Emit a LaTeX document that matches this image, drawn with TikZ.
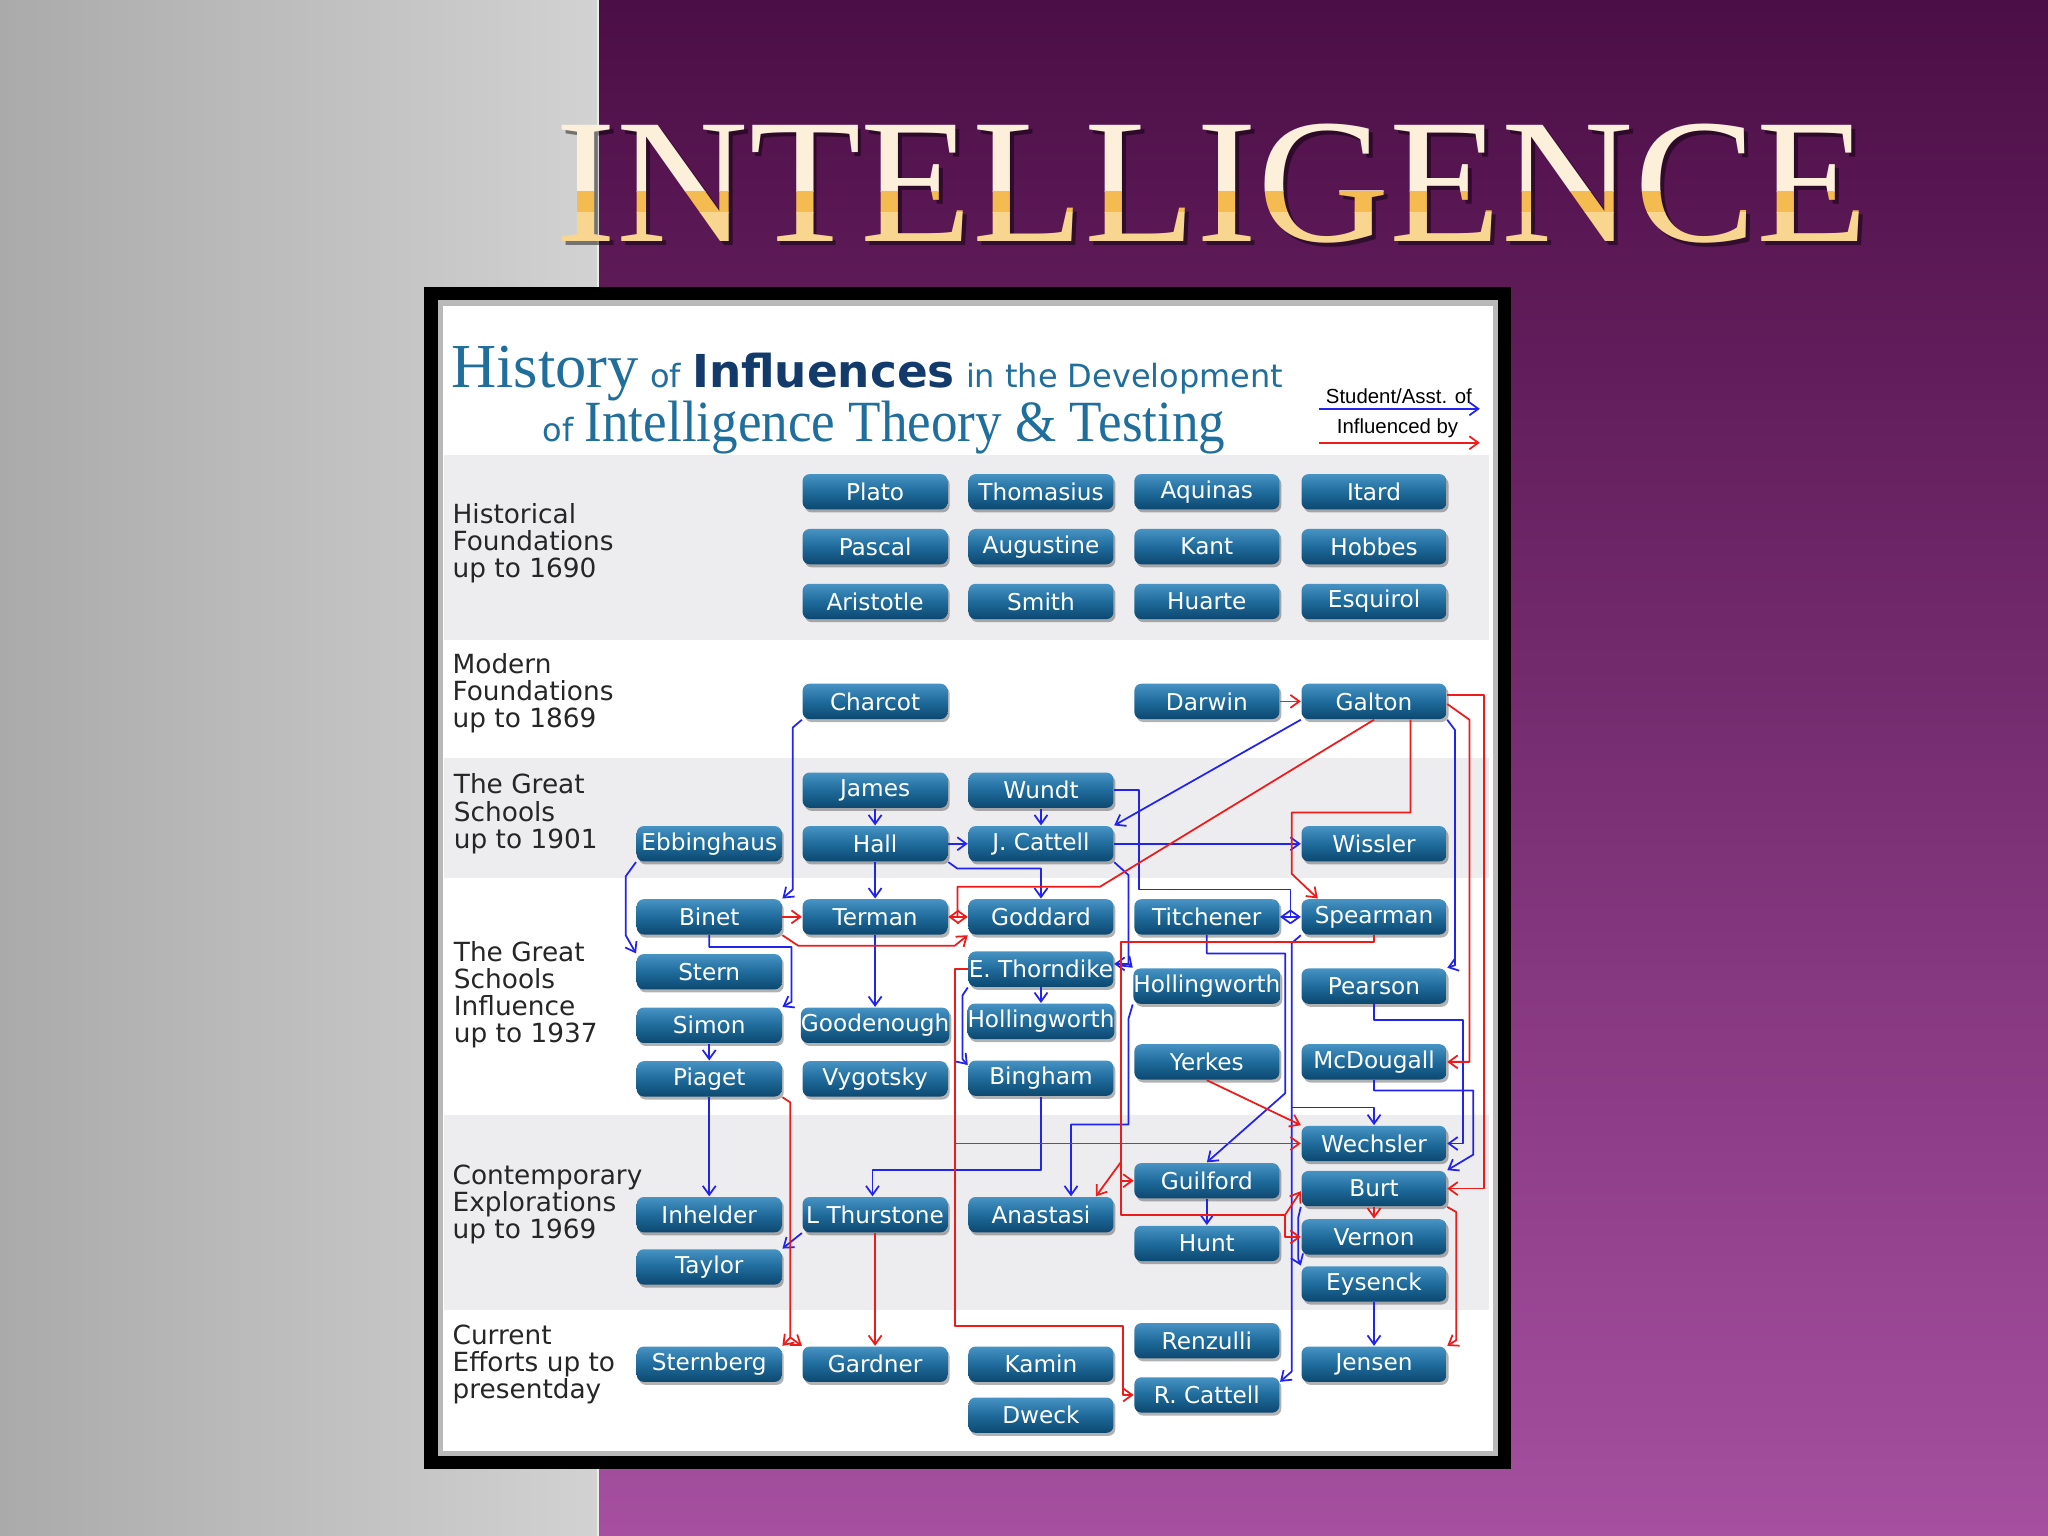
\documentclass[tikz,border=0pt]{standalone}
\usepackage{fontspec}
\usepackage{graphicx}
\setmainfont{DejaVu Sans}
\newfontfamily\serifT{Liberation Serif}
\newfontfamily\legf{Liberation Sans}
\usetikzlibrary{arrows.meta,calc,shadows}
\definecolor{boxtop}{HTML}{4693C4}
\definecolor{boxmid}{HTML}{1F6B9B}
\definecolor{boxbot}{HTML}{0C4870}
\definecolor{lineblue}{HTML}{2323EE}
\definecolor{linered}{HTML}{EE1B1B}
\definecolor{bandgray}{HTML}{EDEDF0}
\definecolor{titleteal}{HTML}{1F6E9C}
\definecolor{titlenavy}{HTML}{123A6B}
\definecolor{purptop}{HTML}{4C0E46}
\definecolor{purpbot}{HTML}{A64FA0}
\definecolor{greyL}{HTML}{AAAAAA}
\definecolor{greyR}{HTML}{D2D2D2}
\definecolor{goldA}{HTML}{FDF0DA}
\definecolor{goldB}{HTML}{F3BB50}
\definecolor{goldC}{HTML}{F9D690}
\begin{document}
\begin{tikzpicture}[x=0.013061cm, y=-0.013061cm,
  pbox/.style={rounded corners=0.07cm, minimum width=1.45cm, minimum height=0.353cm,
    inner sep=0pt, top color=boxtop, bottom color=boxbot, middle color=boxmid,
    text=white, font=\fontsize{6.6}{7}\selectfont,
    drop shadow={shadow xshift=0.02cm, shadow yshift=-0.03cm, opacity=0.3, fill=black}},
  bl/.style={draw=lineblue, line width=0.5pt, line join=round, -{Straight Barb[length=0.9mm,width=1.3mm]}},
  bln/.style={draw=lineblue, line width=0.5pt, line join=round},
  rd/.style={draw=linered, line width=0.5pt, line join=round, -{Straight Barb[length=0.9mm,width=1.3mm]}},
  rdn/.style={draw=linered, line width=0.5pt, line join=round},
  rowlab/.style={anchor=north west, align=left, inner sep=0pt, font=\fontsize{7.5}{7.7}\selectfont, text=black!85},
  bigtitle/.style={anchor=base west, inner sep=0pt, font=\serifT\fontsize{50.5}{52}\selectfont}]

\useasboundingbox (0,0) rectangle (1568,1176);

% backgrounds
\shade[left color=greyL, right color=greyR] (0,0) rectangle (458,1176);
\shade[top color=purptop, bottom color=purpbot] (458,0) rectangle (1568,1176);
\draw[white!85!gray, line width=0.6pt] (458,0) -- (458,1176);

% title INTELLIGENCE
\node[bigtitle, text=black, opacity=0.45] (tshadow) at (428,188) {\scalebox{1.032}[1]{INTELLIGENCE}};
\begin{scope}
  \clip (300,40) rectangle (1500,147);
  \node[bigtitle, text=goldA] (title1) at (425,185) {\scalebox{1.032}[1]{INTELLIGENCE}};
\end{scope}
\begin{scope}
  \clip (300,147) rectangle (1500,163);
  \node[bigtitle, text=goldB] (title2) at (425,185) {\scalebox{1.032}[1]{INTELLIGENCE}};
\end{scope}
\begin{scope}
  \clip (300,163) rectangle (1500,220);
  \node[bigtitle, text=goldC] (title3) at (425,185) {\scalebox{1.032}[1]{INTELLIGENCE}};
\end{scope}

% frame
\fill[black] (325,220) rectangle (1157,1125);
\fill[gray!55] (335,230) rectangle (1147,1115);
\fill[white] (339,234) rectangle (1143,1111);

% bands
\fill[bandgray] (340,348) rectangle (1140,490);
\fill[bandgray] (340,580) rectangle (1140,672);
\fill[bandgray] (340,854) rectangle (1140,1003);

% header
\node[anchor=base west, inner sep=0pt, text=titleteal] (hdr1) at (345,297)
  {{\serifT\fontsize{17.8}{18}\selectfont History} {\fontsize{9.1}{10}\selectfont of} {\fontsize{12.9}{13}\selectfont\bfseries\color{titlenavy}Influences} {\fontsize{9.1}{10}\selectfont in the Development}};
\node[anchor=base west, inner sep=0pt, text=titleteal] (hdr2) at (415,338)
  {{\fontsize{9.1}{10}\selectfont of} \scalebox{0.91}[1]{\serifT\fontsize{16.6}{17}\selectfont Intelligence Theory \& Testing}};

% legend
\node[font=\legf\fontsize{5.8}{6}\selectfont] (lg1) at (1071,303) {Student/Asst. of};
\node[font=\legf\fontsize{5.8}{6}\selectfont] (lg2) at (1070,328) {Influenced by};
\coordinate (lgb1) at (1010,313); \coordinate (lgb2) at (1133,313);
\coordinate (lgr1) at (1010,339); \coordinate (lgr2) at (1133,339);
\draw[bl] (lgb1) -- (lgb2);
\draw[rd] (lgr1) -- (lgr2);

% row labels
\node[rowlab] (l1) at (346,385) {Historical\\Foundations\\up to 1690};
\node[rowlab] (l2) at (346,500) {Modern\\Foundations\\up to 1869};
\node[rowlab] (l3) at (347,592) {The Great\\Schools\\up to 1901};
\node[rowlab] (l4) at (347,720) {The Great\\Schools\\Influence\\up to 1937};
\node[rowlab] (l5) at (346,891) {Contemporary\\Explorations\\up to 1969};
\node[rowlab] (l6) at (346,1014) {Current\\Efforts up to\\presentday};

% historical
\node[pbox] (plato) at (670,376.5) {Plato};
\node[pbox] (thomasius) at (797,376.5) {Thomasius};
\node[pbox] (aquinas) at (924,376.5) {Aquinas};
\node[pbox] (itard) at (1052,376.5) {Itard};
\node[pbox] (pascal) at (670,418.5) {Pascal};
\node[pbox] (augustine) at (797,418.5) {Augustine};
\node[pbox] (kant) at (924,418.5) {Kant};
\node[pbox] (hobbes) at (1052,418.5) {Hobbes};
\node[pbox] (aristotle) at (670,460.5) {Aristotle};
\node[pbox] (smith) at (797,460.5) {Smith};
\node[pbox] (huarte) at (924,460.5) {Huarte};
\node[pbox] (esquirol) at (1052,460.5) {Esquirol};
% modern
\node[pbox] (charcot) at (670,537) {Charcot};
\node[pbox] (darwin) at (924,537) {Darwin};
\node[pbox] (galton) at (1052,537) {Galton};
% great schools
\node[pbox] (james) at (670,605) {James};
\node[pbox] (wundt) at (797,605) {Wundt};
\node[pbox] (ebb) at (543,646) {Ebbinghaus};
\node[pbox] (hall) at (670,646) {Hall};
\node[pbox] (jcattell) at (797,646) {J. Cattell};
\node[pbox] (wissler) at (1052,646) {Wissler};
% influence
\node[pbox] (binet) at (543,702) {Binet};
\node[pbox] (terman) at (670,702) {Terman};
\node[pbox] (goddard) at (797,702) {Goddard};
\node[pbox] (titchener) at (924,702) {Titchener};
\node[pbox] (spearman) at (1052,702) {Spearman};
\node[pbox] (stern) at (543,744) {Stern};
\node[pbox] (thorndike) at (797,742) {E. Thorndike};
\node[pbox] (hollD) at (924,755) {Hollingworth};
\node[pbox] (pearson) at (1052,755) {Pearson};
\node[pbox] (simon) at (543,785) {Simon};
\node[pbox] (goodenough) at (670,785) {Goodenough};
\node[pbox] (hollC) at (797,782) {Hollingworth};
\node[pbox] (piaget) at (543,826) {Piaget};
\node[pbox] (vygotsky) at (670,826) {Vygotsky};
\node[pbox] (bingham) at (797,825.5) {Bingham};
\node[pbox] (yerkes) at (924,813) {Yerkes};
\node[pbox] (mcdougall) at (1052,813) {McDougall};
% contemporary
\node[pbox] (wechsler) at (1052,875.5) {Wechsler};
\node[pbox] (guilford) at (924,904) {Guilford};
\node[pbox] (burt) at (1052,910) {Burt};
\node[pbox] (inhelder) at (543,930) {Inhelder};
\node[pbox] (thurstone) at (670,930) {L Thurstone};
\node[pbox] (anastasi) at (797,930) {Anastasi};
\node[pbox] (hunt) at (924,952) {Hunt};
\node[pbox] (vernon) at (1052,947) {Vernon};
\node[pbox] (taylor) at (543,970) {Taylor};
\node[pbox] (eysenck) at (1052,983) {Eysenck};
% current
\node[pbox] (renzulli) at (924,1026.5) {Renzulli};
\node[pbox] (sternberg) at (543,1044.5) {Sternberg};
\node[pbox] (gardner) at (670,1044.5) {Gardner};
\node[pbox] (kamin) at (797,1044.5) {Kamin};
\node[pbox] (jensen) at (1052,1044.5) {Jensen};
\node[pbox] (rcattell) at (924,1068) {R. Cattell};
\node[pbox] (dweck) at (797,1083.5) {Dweck};

% helper coordinates
\coordinate (cx820) at (820,0);
\coordinate (cx668) at (668,0);
\coordinate (cx1080) at (1080,0);
\coordinate (jW) at (988,702);
\coordinate (jJ) at (864,738);
\coordinate (jS) at (989,848);
\coordinate (jG) at (733,702);
\coordinate (jT) at (731,875.5);
\coordinate (jSa) at (858,890);
\coordinate (jSg) at (858,904);
\coordinate (jSb) at (984,930);
\coordinate (jP) at (605,1024);

% blue connectors
\draw[bl] (charcot.south west) -- (607,557) -- (607,681) -- (binet.north east);
\draw[bl] (james.south) -- (hall.north);
\draw[bl] (wundt.south) -- (jcattell.north);
\draw[bl] (hall.east) -- (jcattell.west);
\draw[bl] (hall.south east) -- (733,665) -- (797,665) -- (goddard.north);
\draw[bl] (hall.south) -- (terman.north);
\draw[bl] (ebb.south west) -- (479,671) -- (479,716) -- (stern.north west);
\draw[bl] (binet.south) -- (543,725) -- (606,725) -- (606,767) -- (simon.north east);
\draw[bl] (terman.south) -- (goodenough.north);
\draw[bl] (galton.south west) -- (jcattell.north east);
\draw[bln] (wundt.east) -- (872,605) -- (872,681) -- (988,681) -- (jW);
\draw[bl] (jW) -- (titchener.east);
\draw[bl] (jW) -- (spearman.west);
\draw[bl] (jcattell.east) -- (wissler.west);
\draw[bln] (jcattell.south east) -- (864,670) -- (jJ);
\draw[bl] (jJ) -- (thorndike.east |- jJ);
\draw[bl] (jJ) -- (hollD.north west);
\draw[bl] (thorndike.south) -- (hollC.north);
\draw[bl] (thorndike.south west) -- (737,762) -- (737,811) -- ($(bingham.north west)+(0,4)$);
\draw[bl] (hollD.south west) -- (864,780) -- (864,861) -- (820,861) -- (anastasi.north -| cx820);
\draw[bl] (bingham.south) -- (797,896) -- (668,896) -- (thurstone.north -| cx668);
\draw[bl] (thurstone.south west) -- (taylor.north east);
\draw[bl] (simon.south) -- (piaget.north);
\draw[bl] (piaget.south) -- (inhelder.north);
\draw[bl] (titchener.south) -- (924,730) -- (984,730) -- (984,837) -- (guilford.north);
\draw[bl] (spearman.south west) -- (989,722) -- (989,1050) -- ($(rcattell.north east)+(0,4)$);
\draw[bl] (jS) -| (wechsler.north);
\draw[bl] (pearson.south) -- (1052,781) -- (1120,781) |- (wechsler.east);
\draw[bl] (mcdougall.south) -- (1052,835) -- (1128,835) -- (1128,884) -- (burt.north east);
\draw[bl] (galton.south east) -- (1114,559) -- (1114,739) -- (pearson.north east);
\draw[bl] (burt.south west) -- (994,932) -- (994,964) -- (eysenck.north west);
\draw[bl] (eysenck.south) -- (jensen.north);
\draw[bl] (guilford.south) -- (hunt.north);

% red connectors
\draw[rd] (darwin.east) -- (galton.west);
\draw[rdn] (galton.south) -- (842,679) -- (733,679) -- (jG);
\draw[rd] (jG) -- (terman.east);
\draw[rd] (jG) -- (goddard.west);
\draw[rd] (binet.east) -- (terman.west);
\draw[rd] (binet.south east) -- (611,724) -- (731,724) -- (goddard.south west);
\draw[rd] (galton.south -| cx1080) -- (1080,622) -- (989,622) -- (989,669) -- ($(spearman.north west)+(13,0)$);
\draw[rd] ($(galton.east)+(0,2)$) -- (1125,551) -- (1125,813) -- (mcdougall.east);
\draw[rd] ($(galton.east)+(0,-5)$) -- (1136,532) -- (1136,910) -- (burt.east);
\draw[rd] (thorndike.west) -- (731,742) -- (731,1015) -- (860,1015) |- (rcattell.west);
\draw[rd] (jT) -- (wechsler.west);
\draw[rd] (spearman.south) -- (1052,721) -- (858,721) -- (858,930) -- (984,930) |- (vernon.west);
\draw[rd] (jSa) -- ($(anastasi.north east)+(-14,0)$);
\draw[rd] (jSg) -- (guilford.west);
\draw[rd] (jSb) -- ($(burt.west)+(0,2)$);
\draw[rd] (yerkes.south) -- (wechsler.north west);
\draw[rd] (burt.south) -- (vernon.north);
\draw[rd] (burt.south east) -- (1115,928) -- (1115,1026) -- (jensen.north east);
\draw[rdn] (piaget.south east) -- (605,844) -- (jP);
\draw[rd] (jP) -- (sternberg.north east);
\draw[rd] (jP) -- (gardner.north west);
\draw[rd] (thurstone.south) -- (gardner.north);
\end{tikzpicture}
\end{document}
